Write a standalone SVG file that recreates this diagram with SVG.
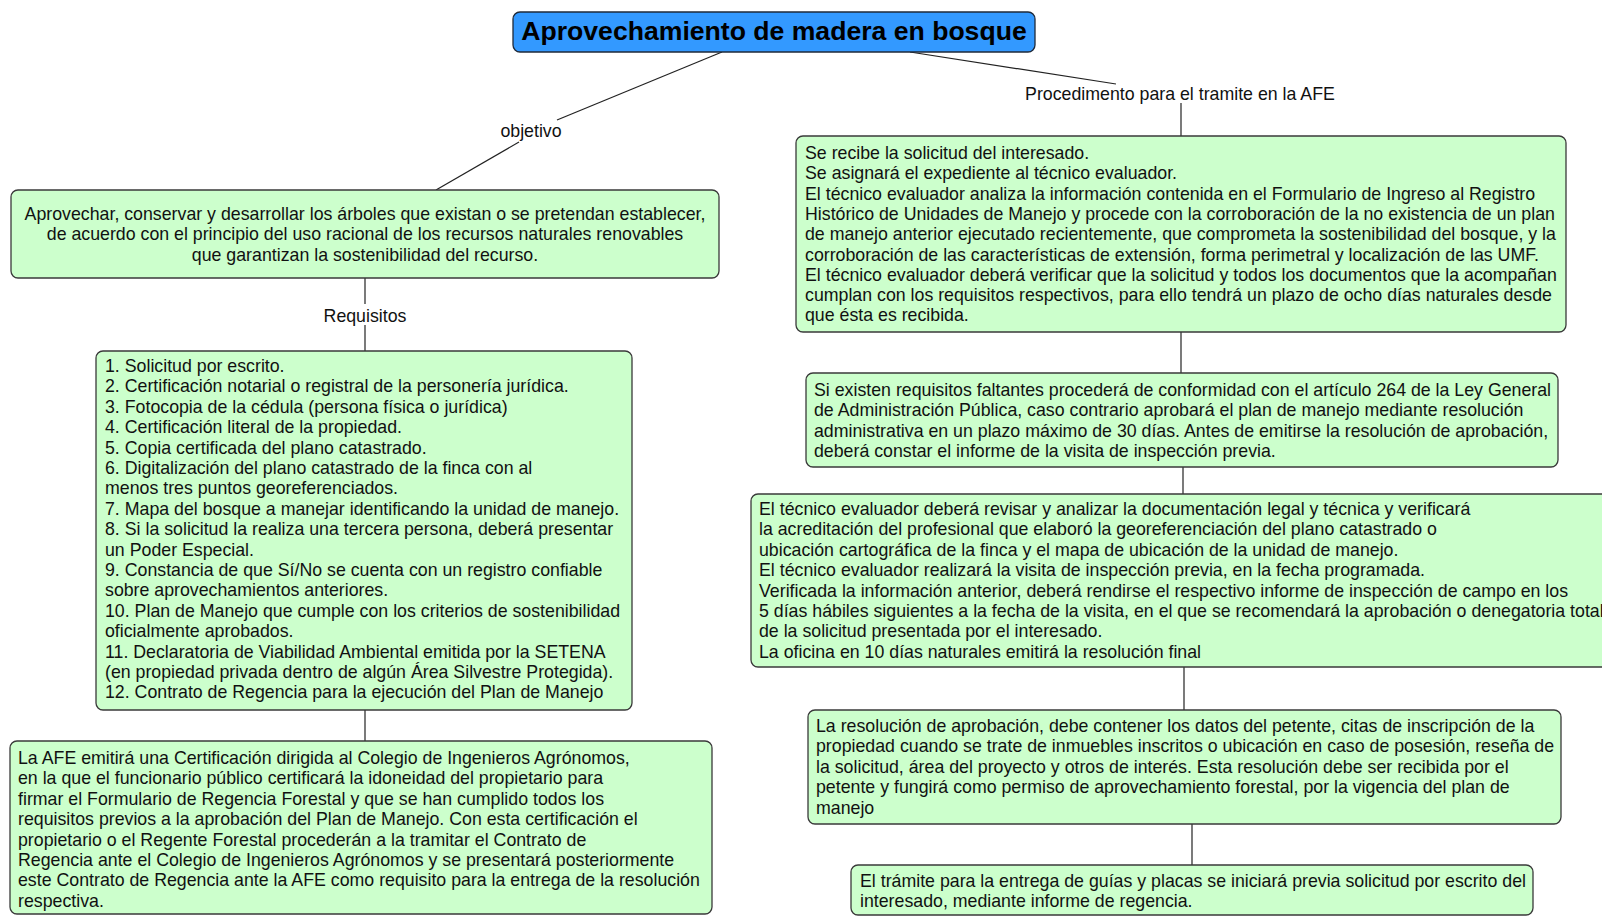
<svg xmlns="http://www.w3.org/2000/svg" width="1602" height="916" viewBox="0 0 1602 916">
<style>
.bg{fill:#ffffff}
.node{fill:#ccffcc;stroke:#3a3a3a;stroke-width:1.3}
.title{fill:#3399ff;stroke:#1f2a3a;stroke-width:1.3}
.t{font-family:"Liberation Sans",Arial,sans-serif;font-size:17.75px;fill:#111}
.tt{font-family:"Liberation Sans",Arial,sans-serif;font-size:26.6px;font-weight:bold;fill:#000}
.c{text-anchor:middle}
.ln{stroke:#222;stroke-width:1.2;fill:none}
</style>
<rect class="bg" x="0" y="0" width="1602" height="916"/>
<g id="connectors">
<path class="ln" d="M722,52 L557,120"/>
<path class="ln" d="M519,142 L436,190"/>
<path class="ln" d="M910,52 L1116,84"/>
<path class="ln" d="M1181,103 L1181,136"/>
<path class="ln" d="M365,278 L365,304"/>
<path class="ln" d="M365,325 L365,351"/>
<path class="ln" d="M365,710 L365,741"/>
<path class="ln" d="M1181,332 L1181,373"/>
<path class="ln" d="M1183,467 L1183,494"/>
<path class="ln" d="M1184,667 L1184,710"/>
<path class="ln" d="M1192,824 L1192,865"/>
<text class="t c" x="531" y="136.5">objetivo</text>
<text class="t c" x="1180" y="100">Procedimento para el tramite en la AFE</text>
<text class="t c" x="365" y="321.5">Requisitos</text>
</g>
<g id="title">
<rect class="title" x="513" y="12" width="522" height="40" rx="7"/>
<text class="tt c" x="774" y="39.5">Aprovechamiento de madera en bosque</text>
</g>
<g id="objetivo">
<rect class="node" x="11" y="190" width="708" height="88" rx="7"/>
<text class="t c"><tspan x="365" y="220">Aprovechar, conservar y desarrollar los árboles que existan o se pretendan establecer,</tspan><tspan x="365" y="240.4">de acuerdo con el principio del uso racional de los recursos naturales renovables</tspan><tspan x="365" y="260.8">que garantizan la sostenibilidad del recurso.</tspan></text>
</g>
<g id="requisitos">
<rect class="node" x="96" y="351" width="536" height="359" rx="7"/>
<text class="t"><tspan x="105" y="372">1. Solicitud por escrito.</tspan><tspan x="105" y="392.4">2. Certificación notarial o registral de la personería jurídica.</tspan><tspan x="105" y="412.8">3. Fotocopia de la cédula (persona física o jurídica)</tspan><tspan x="105" y="433.2">4. Certificación literal de la propiedad.</tspan><tspan x="105" y="453.6">5. Copia certificada del plano catastrado.</tspan><tspan x="105" y="474">6. Digitalización del plano catastrado de la finca con al</tspan><tspan x="105" y="494.4">menos tres puntos georeferenciados.</tspan><tspan x="105" y="514.8">7. Mapa del bosque a manejar identificando la unidad de manejo.</tspan><tspan x="105" y="535.2">8. Si la solicitud la realiza una tercera persona, deberá presentar</tspan><tspan x="105" y="555.6">un Poder Especial.</tspan><tspan x="105" y="576">9. Constancia de que Sí/No se cuenta con un registro confiable</tspan><tspan x="105" y="596.4">sobre aprovechamientos anteriores.</tspan><tspan x="105" y="616.8">10. Plan de Manejo que cumple con los criterios de sostenibilidad</tspan><tspan x="105" y="637.2">oficialmente aprobados.</tspan><tspan x="105" y="657.6">11. Declaratoria de Viabilidad Ambiental emitida por la SETENA</tspan><tspan x="105" y="678">(en propiedad privada dentro de algún Área Silvestre Protegida).</tspan><tspan x="105" y="698.4">12. Contrato de Regencia para la ejecución del Plan de Manejo</tspan></text>
</g>
<g id="certificacion">
<rect class="node" x="10" y="741" width="702" height="173" rx="7"/>
<text class="t"><tspan x="18" y="764">La AFE emitirá una Certificación dirigida al Colegio de Ingenieros Agrónomos,</tspan><tspan x="18" y="784.4">en la que el funcionario público certificará la idoneidad del propietario para</tspan><tspan x="18" y="804.8">firmar el Formulario de Regencia Forestal y que se han cumplido todos los</tspan><tspan x="18" y="825.2">requisitos previos a la aprobación del Plan de Manejo. Con esta certificación el</tspan><tspan x="18" y="845.6">propietario o el Regente Forestal procederán a la tramitar el Contrato de</tspan><tspan x="18" y="866">Regencia ante el Colegio de Ingenieros Agrónomos y se presentará posteriormente</tspan><tspan x="18" y="886.4">este Contrato de Regencia ante la AFE como requisito para la entrega de la resolución</tspan><tspan x="18" y="906.8">respectiva.</tspan></text>
</g>
<g id="paso1">
<rect class="node" x="796" y="136" width="770" height="196" rx="7"/>
<text class="t"><tspan x="805" y="159">Se recibe la solicitud del interesado.</tspan><tspan x="805" y="179.3">Se asignará el expediente al técnico evaluador.</tspan><tspan x="805" y="199.6">El técnico evaluador analiza la información contenida en el Formulario de Ingreso al Registro</tspan><tspan x="805" y="219.9">Histórico de Unidades de Manejo y procede con la corroboración de la no existencia de un plan</tspan><tspan x="805" y="240.2">de manejo anterior ejecutado recientemente, que comprometa la sostenibilidad del bosque, y la</tspan><tspan x="805" y="260.5">corroboración de las características de extensión, forma perimetral y localización de las UMF.</tspan><tspan x="805" y="280.8">El técnico evaluador deberá verificar que la solicitud y todos los documentos que la acompañan</tspan><tspan x="805" y="301.1">cumplan con los requisitos respectivos, para ello tendrá un plazo de ocho días naturales desde</tspan><tspan x="805" y="321.4">que ésta es recibida.</tspan></text>
</g>
<g id="paso2">
<rect class="node" x="806" y="373" width="752" height="94" rx="7"/>
<text class="t"><tspan x="814" y="396">Si existen requisitos faltantes procederá de conformidad con el artículo 264 de la Ley General</tspan><tspan x="814" y="416.4">de Administración Pública, caso contrario aprobará el plan de manejo mediante resolución</tspan><tspan x="814" y="436.8">administrativa en un plazo máximo de 30 días. Antes de emitirse la resolución de aprobación,</tspan><tspan x="814" y="457.2">deberá constar el informe de la visita de inspección previa.</tspan></text>
</g>
<g id="paso3">
<rect class="node" x="751" y="494" width="880" height="173" rx="7"/>
<text class="t"><tspan x="759" y="515">El técnico evaluador deberá revisar y analizar la documentación legal y técnica y verificará</tspan><tspan x="759" y="535.4">la acreditación del profesional que elaboró la georeferenciación del plano catastrado o</tspan><tspan x="759" y="555.8">ubicación cartográfica de la finca y el mapa de ubicación de la unidad de manejo.</tspan><tspan x="759" y="576.2">El técnico evaluador realizará la visita de inspección previa, en la fecha programada.</tspan><tspan x="759" y="596.6">Verificada la información anterior, deberá rendirse el respectivo informe de inspección de campo en los</tspan><tspan x="759" y="617">5 días hábiles siguientes a la fecha de la visita, en el que se recomendará la aprobación o denegatoria total</tspan><tspan x="759" y="637.4">de la solicitud presentada por el interesado.</tspan><tspan x="759" y="657.8">La oficina en 10 días naturales emitirá la resolución final</tspan></text>
</g>
<g id="paso4">
<rect class="node" x="808" y="710" width="753" height="114" rx="7"/>
<text class="t"><tspan x="816" y="732">La resolución de aprobación, debe contener los datos del petente, citas de inscripción de la</tspan><tspan x="816" y="752.4">propiedad cuando se trate de inmuebles inscritos o ubicación en caso de posesión, reseña de</tspan><tspan x="816" y="772.8">la solicitud, área del proyecto y otros de interés. Esta resolución debe ser recibida por el</tspan><tspan x="816" y="793.2">petente y fungirá como permiso de aprovechamiento forestal, por la vigencia del plan de</tspan><tspan x="816" y="813.6">manejo</tspan></text>
</g>
<g id="paso5">
<rect class="node" x="851" y="865" width="682" height="50" rx="7"/>
<text class="t"><tspan x="860" y="887">El trámite para la entrega de guías y placas se iniciará previa solicitud por escrito del</tspan><tspan x="860" y="907.4">interesado, mediante informe de regencia.</tspan></text>
</g>
</svg>
